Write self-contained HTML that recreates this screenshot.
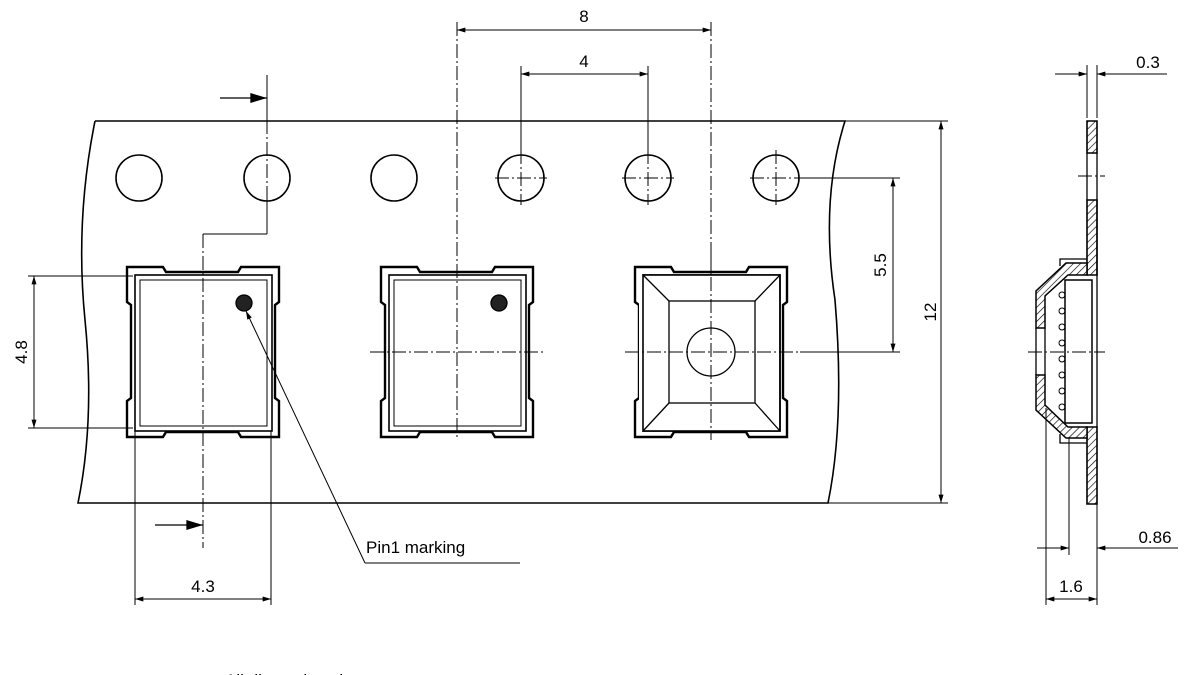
<!DOCTYPE html>
<html><head><meta charset="utf-8"><style>
html,body{margin:0;padding:0;background:#fff;width:1200px;height:675px;overflow:hidden}
text{font-family:"Liberation Sans",sans-serif;font-size:17px;fill:#000}
</style></head><body>
<svg width="1200" height="675" viewBox="0 0 1200 675" xmlns="http://www.w3.org/2000/svg">
<defs>
<marker id="a" viewBox="0 0 10 6" refX="10" refY="3" markerWidth="13" markerHeight="5" markerUnits="userSpaceOnUse" orient="auto"><path d="M0,0L10,3L0,6z" fill="#000"/></marker>
<marker id="b" viewBox="0 0 10 6" refX="10" refY="3" markerWidth="20" markerHeight="10" markerUnits="userSpaceOnUse" orient="auto"><path d="M0,0L10,3L0,6z" fill="#000"/></marker>
<pattern id="h" width="5" height="5" patternUnits="userSpaceOnUse" patternTransform="rotate(45)"><rect width="5" height="5" fill="#fff"/><line x1="0" y1="0" x2="0" y2="5" stroke="#000" stroke-width="1.3"/></pattern>
</defs>
<g fill="none" stroke="#000" stroke-width="1.3">
<path d="M95,121 L845,121 Q820,200 835,300 Q845,420 828,503 L78,503 Q95,420 85,320 Q75,220 95,121" stroke-width="1.6"/>
<g stroke-width="1.6">
<circle cx="139" cy="178" r="23"/><circle cx="267" cy="178" r="23"/><circle cx="394" cy="178" r="23"/>
<circle cx="521" cy="178" r="23"/><circle cx="648" cy="178" r="23"/><circle cx="776" cy="178" r="23"/>
</g>
<g stroke-dasharray="14 3 2 3" stroke-width="1">
<line x1="495" y1="178" x2="547" y2="178"/><line x1="622" y1="178" x2="674" y2="178"/><line x1="750" y1="178" x2="802" y2="178"/>
<line x1="521" y1="150" x2="521" y2="205"/><line x1="648" y1="150" x2="648" y2="205"/><line x1="776" y1="150" x2="776" y2="205"/>
<line x1="370" y1="352" x2="545" y2="352"/><line x1="625" y1="352" x2="800" y2="352"/>
<line x1="457" y1="22" x2="457" y2="440"/><line x1="711" y1="22" x2="711" y2="440"/>
<line x1="203" y1="234" x2="203" y2="548"/>
<line x1="267" y1="120" x2="267" y2="200"/>
</g>
<g id="p1">
<path d="M127,267 L163,267 L166,272 L238,272 L241,267 L279,267 L279,302 L275,305 L275,398 L279,401 L279,437 L241,437 L238,432 L166,432 L163,437 L127,437 L127,401 L131,398 L131,305 L127,302 Z" stroke-width="2.4"/>
<rect x="135" y="275" width="137" height="156" stroke-width="1.6"/>
<rect x="140" y="280" width="127" height="146" stroke-width="1"/>
</g>
<use href="#p1" x="254"/>
<use href="#p1" x="508"/>
<rect x="639" y="275" width="140" height="156" fill="#fff" stroke="none"/>
<rect x="643" y="275" width="137" height="156" stroke-width="1.6"/>
<rect x="669" y="301" width="86" height="102"/>
<path d="M643,275L669,301M780,275L755,301M643,431L669,403M780,431L755,403"/>
<circle cx="711" cy="352" r="24"/>
<line x1="625" y1="352" x2="800" y2="352" stroke-dasharray="14 3 2 3" stroke-width="1"/>
<line x1="711" y1="255" x2="711" y2="440" stroke-dasharray="14 3 2 3" stroke-width="1"/>
<circle cx="244" cy="303" r="8" fill="#222"/><circle cx="499" cy="303" r="8" fill="#222"/>
<g stroke-width="1">
<line x1="457" y1="30" x2="711" y2="30" marker-end="url(#a)"/><line x1="711" y1="30" x2="457" y2="30" marker-end="url(#a)"/>
<line x1="521" y1="74" x2="648" y2="74" marker-end="url(#a)"/><line x1="648" y1="74" x2="521" y2="74" marker-end="url(#a)"/>
<line x1="521" y1="66" x2="521" y2="150"/><line x1="648" y1="66" x2="648" y2="150"/>
<line x1="802" y1="178" x2="900" y2="178"/><line x1="800" y1="352" x2="900" y2="352"/>
<line x1="893" y1="178" x2="893" y2="352" marker-end="url(#a)"/><line x1="893" y1="352" x2="893" y2="178" marker-end="url(#a)"/>
<line x1="845" y1="121" x2="948" y2="121"/><line x1="828" y1="503" x2="948" y2="503"/>
<line x1="941" y1="121" x2="941" y2="503" marker-end="url(#a)"/><line x1="941" y1="503" x2="941" y2="121" marker-end="url(#a)"/>
<line x1="28" y1="276" x2="133" y2="276"/><line x1="28" y1="428" x2="133" y2="428"/>
<line x1="34" y1="276" x2="34" y2="428" marker-end="url(#a)"/><line x1="34" y1="428" x2="34" y2="276" marker-end="url(#a)"/>
<line x1="135" y1="431" x2="135" y2="605"/><line x1="271" y1="431" x2="271" y2="605"/>
<line x1="135" y1="599" x2="271" y2="599" marker-end="url(#a)"/><line x1="271" y1="599" x2="135" y2="599" marker-end="url(#a)"/>
<line x1="267" y1="75" x2="267" y2="120"/><line x1="267" y1="200" x2="267" y2="234"/><line x1="267" y1="234" x2="203" y2="234"/>
<line x1="220" y1="98" x2="267" y2="98" marker-end="url(#b)" stroke-width="1.3"/>
<line x1="155" y1="525" x2="203" y2="525" marker-end="url(#b)" stroke-width="1.3"/>
<line x1="365" y1="563" x2="246" y2="311" marker-end="url(#a)"/><line x1="365" y1="563" x2="520" y2="563"/>
</g>
<!-- side view -->
<path d="M1087,121 L1097,121 L1097,153 L1087,153 Z M1087,200 L1097,200 L1097,275 L1087,275 Z M1087,427 L1097,427 L1097,504 L1087,504 Z" fill="url(#h)" stroke-width="1.6"/>
<line x1="1087" y1="153" x2="1087" y2="200"/><line x1="1097" y1="153" x2="1097" y2="427"/>
<path d="M1087,259 L1060,259 L1060,266"/>
<path d="M1087,263 L1066,263 L1036,291 L1036,328 L1045,328 L1045,296 L1068,275 L1087,275 Z" fill="url(#h)" stroke-width="1.5"/>
<path d="M1036,375 L1045,375 L1045,405 L1068,427 L1087,427 L1087,438 L1066,438 L1036,410 Z" fill="url(#h)" stroke-width="1.5"/>
<line x1="1036" y1="328" x2="1036" y2="375"/><line x1="1045" y1="328" x2="1045" y2="375"/>
<path d="M1060,434 L1060,443 L1087,443"/>
<rect x="1065" y="280" width="27" height="143" stroke-width="1.5"/>
<g stroke-width="1">
<circle cx="1062" cy="295" r="3"/><circle cx="1062" cy="311" r="3"/><circle cx="1062" cy="327" r="3"/><circle cx="1062" cy="343" r="3"/><circle cx="1062" cy="359" r="3"/><circle cx="1062" cy="375" r="3"/><circle cx="1062" cy="391" r="3"/><circle cx="1062" cy="407" r="3"/>
</g>
<g stroke-dasharray="14 3 2 3" stroke-width="1">
<line x1="1078" y1="176" x2="1105" y2="176"/><line x1="1028" y1="352" x2="1105" y2="352"/>
</g>
<g stroke-width="1">
<line x1="1087" y1="65" x2="1087" y2="118"/><line x1="1097" y1="65" x2="1097" y2="118"/>
<line x1="1055" y1="74" x2="1087" y2="74" marker-end="url(#a)"/><line x1="1167" y1="74" x2="1097" y2="74" marker-end="url(#a)"/>
<line x1="1069" y1="438" x2="1069" y2="555"/><line x1="1097" y1="504" x2="1097" y2="605"/>
<line x1="1037" y1="548" x2="1069" y2="548" marker-end="url(#a)"/><line x1="1178" y1="548" x2="1097" y2="548" marker-end="url(#a)"/>
<line x1="1046" y1="408" x2="1046" y2="605"/>
<line x1="1046" y1="599" x2="1097" y2="599" marker-end="url(#a)"/><line x1="1097" y1="599" x2="1046" y2="599" marker-end="url(#a)"/>
</g>
</g>
<text x="584" y="22" text-anchor="middle">8</text>
<text x="584" y="67" text-anchor="middle">4</text>
<text x="203" y="592" text-anchor="middle">4.3</text>
<text x="366" y="553">Pin1 marking</text>
<text transform="translate(886,265) rotate(-90)" text-anchor="middle">5.5</text>
<text transform="translate(936,312) rotate(-90)" text-anchor="middle">12</text>
<text transform="translate(27,352) rotate(-90)" text-anchor="middle">4.8</text>
<text x="1148" y="68" text-anchor="middle">0.3</text>
<text x="1155" y="543" text-anchor="middle">0.86</text>
<text x="1071" y="592" text-anchor="middle">1.6</text>
<text x="225" y="686">All dimensions in mm</text>
</svg>
</body></html>
